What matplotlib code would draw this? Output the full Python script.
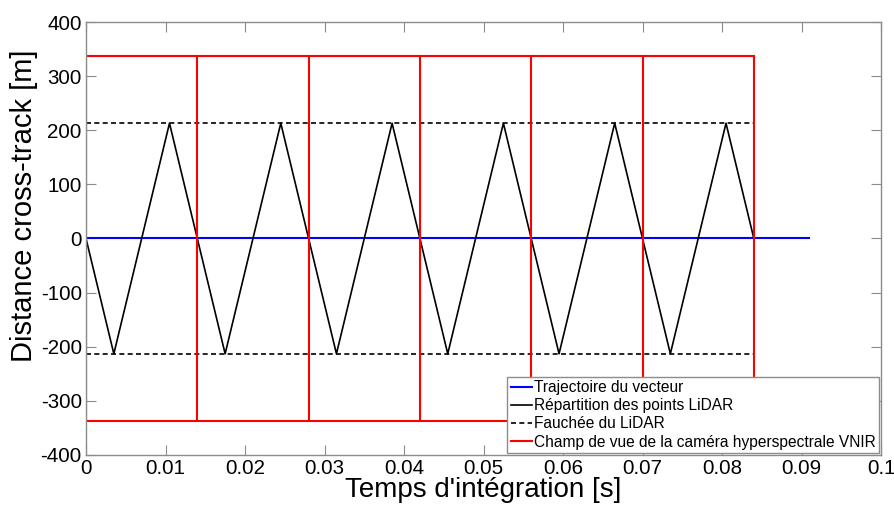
import matplotlib
matplotlib.use('Agg')
import matplotlib.pyplot as plt

plt.rcParams['font.family'] = ['Liberation Sans', 'DejaVu Sans']
plt.rcParams['axes.unicode_minus'] = False

# Données
traj_t = [0, 0.091]
traj_y = [0, 0]

zig_t = [0, 0.0035, 0.0105, 0.014, 0.0175, 0.0245, 0.028, 0.0315, 0.0385, 0.042,
         0.0455, 0.0525, 0.056, 0.0595, 0.0665, 0.07, 0.0735, 0.0805, 0.084]
zig_y = [0, -213, 213, 0, -213, 213, 0, -213, 213, 0,
         -213, 213, 0, -213, 213, 0, -213, 213, 0]

fauchee_t = [0, 0.084]
fauchee_y = 213

champ_bords = [0, 0.014, 0.028, 0.042, 0.056, 0.070, 0.084]
champ_y = 337

GRIS = '#8c8c8c'

fig = plt.figure(figsize=(8.94, 5.07), dpi=100)
ax = fig.add_axes([0.0962, 0.1026, 0.8893, 0.854])

ax.plot(traj_t, traj_y, color='#0000ff', lw=1.5, label='Trajectoire du vecteur')
ax.plot(zig_t, zig_y, color='black', lw=1.2, label='Répartition des points LiDAR')
ax.plot(fauchee_t, [fauchee_y, fauchee_y], color='black', lw=1.2, ls=(0, (3, 2)),
        label='Fauchée du LiDAR')
ax.plot(fauchee_t, [-fauchee_y, -fauchee_y], color='black', lw=1.2, ls=(0, (3, 2)))

# Champ de vue : cadres successifs
ax.plot([champ_bords[0], champ_bords[-1]], [champ_y, champ_y], color='red', lw=1.5,
        label='Champ de vue de la caméra hyperspectrale VNIR')
ax.plot([champ_bords[0], champ_bords[-1]], [-champ_y, -champ_y], color='red', lw=1.5)
for xb in champ_bords:
    ax.plot([xb, xb], [-champ_y, champ_y], color='red', lw=1.5)

ax.set_xlim(0, 0.1)
ax.set_ylim(-400, 400)
ax.set_xticks([0, 0.01, 0.02, 0.03, 0.04, 0.05, 0.06, 0.07, 0.08, 0.09, 0.1])
ax.set_xticklabels(['0', '0.01', '0.02', '0.03', '0.04', '0.05', '0.06', '0.07',
                    '0.08', '0.09', '0.1'])
ax.set_yticks(range(-400, 401, 100))

for s in ax.spines.values():
    s.set_color(GRIS)
    s.set_linewidth(1.0)
ax.tick_params(axis='both', which='both', direction='in', top=True, right=True,
               color=GRIS, length=7.5, labelsize=14.8, pad=3)
ax.set_xlabel("Temps d'intégration [s]", fontsize=20, labelpad=-1)
ax.set_ylabel('Distance cross-track [m]', fontsize=21)
ax.yaxis.set_label_coords(-0.06, 0.575)

leg = ax.legend(loc='lower right', fontsize=11.2, handlelength=1.4, handletextpad=0.1,
                borderpad=0.2, labelspacing=0.2, borderaxespad=0.15,
                fancybox=False, framealpha=1)
leg.get_frame().set_edgecolor(GRIS)
leg.get_frame().set_linewidth(1.0)

fig.savefig('out.png', dpi=100, facecolor='white')
